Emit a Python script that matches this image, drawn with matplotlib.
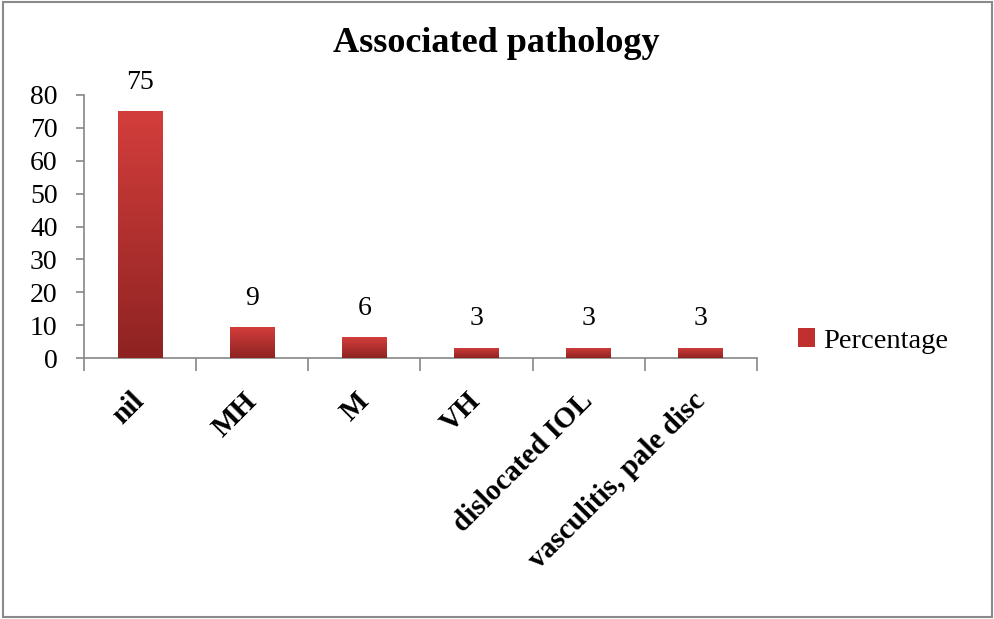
import matplotlib
matplotlib.use("Agg")
import matplotlib.pyplot as plt
import numpy as np
from matplotlib.patches import Rectangle, Patch
from matplotlib.colors import LinearSegmentedColormap

categories = ["nil", "MH", "M", "VH", "dislocated IOL", "vasculitis, pale disc"]
percentage = [75, 9.375, 6.25, 3.125, 3.125, 3.125]
series_name = "Percentage"
title = "Associated pathology"
yticks = [0, 10, 20, 30, 40, 50, 60, 70, 80]

plt.rcParams['font.family'] = ['Liberation Serif', 'DejaVu Serif']

fig = plt.figure(figsize=(9.95, 6.19), dpi=100)
ax = fig.add_axes([84/995, 1-358/619, (757-84)/995, (358-95)/619])

x = np.arange(len(categories))
bars = ax.bar(x, percentage, width=0.40, color="#C0302F", label=series_name, zorder=2)

cmap = LinearSegmentedColormap.from_list("g", ["#8E2322", "#D33E3C"])
grad = np.linspace(0, 1, 256).reshape(-1, 1)
for b in bars:
    x0, y0 = b.get_x(), b.get_y()
    w, h = b.get_width(), b.get_height()
    im = ax.imshow(grad, cmap=cmap, origin="lower", aspect="auto",
                   extent=[x0, x0 + w, y0, y0 + h], zorder=3)
    im.set_clip_path(b)

for xi, v in zip(x, percentage):
    ax.annotate(f"{v:.0f}", (xi, v), xytext=(0, 12), textcoords="offset points",
                ha="center", va="bottom", fontsize=20)

ax.set_xlim(-0.5, len(categories) - 0.5)
ax.set_ylim(0, 80)
ax.set_yticks(yticks)
ax.set_yticklabels([str(t) for t in yticks], fontsize=20)
ax.set_xticks(x)
ax.set_xticklabels(categories, rotation=45, ha="right", rotation_mode="anchor",
                   va="center", fontsize=21, fontweight="bold")
ax.tick_params(axis="x", length=0, pad=28)
ax.set_xticks(np.arange(-0.5, len(categories)), minor=True)
ax.tick_params(axis="x", which="minor", length=9, color="#868686", width=1.2)
ax.tick_params(axis="y", length=6, color="#868686", width=1.2, pad=13)

for s in ["top", "right"]:
    ax.spines[s].set_visible(False)
for s in ["left", "bottom"]:
    ax.spines[s].set_color("#868686")
    ax.spines[s].set_linewidth(1.2)

fig.text(496/995, 1-52/619, title, ha="center", va="baseline", fontsize=26, fontweight="bold")

fig.legend(handles=[Patch(facecolor="#C0302F", label=series_name)],
           loc="center left", bbox_to_anchor=(798/995, 1-341/619), frameon=False,
           fontsize=20.5, handlelength=0.6, handleheight=0.6, handletextpad=0.3,
           borderpad=0, borderaxespad=0)

fig.patches.append(Rectangle((0.003, 0.004), 0.994, 0.992, transform=fig.transFigure,
                             fill=False, edgecolor="#8a8a8a", linewidth=1.5))

fig.savefig("out.png", dpi=100)
